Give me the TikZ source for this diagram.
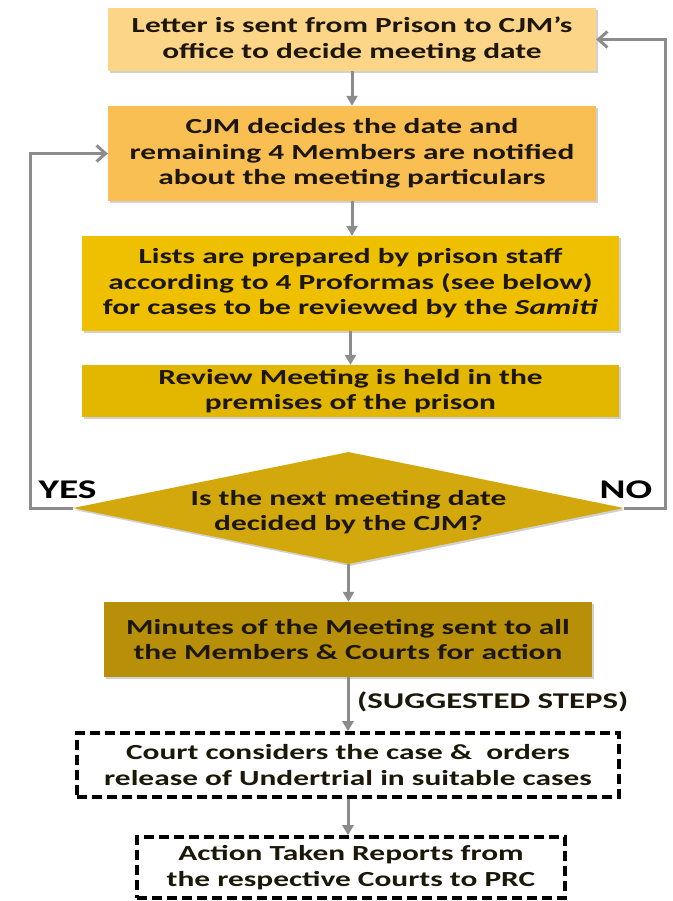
\documentclass[tikz,border=0pt]{standalone}
\usepackage{fontspec}
\setmainfont{Carlito}[FakeStretch=1.46]
\usetikzlibrary{arrows.meta,shapes.geometric,shadows}
\definecolor{cA}{HTML}{FCD589}
\definecolor{cB}{HTML}{F9BF52}
\definecolor{cC}{HTML}{EFC000}
\definecolor{cD}{HTML}{E3B600}
\definecolor{cE}{HTML}{D2A80C}
\definecolor{cF}{HTML}{B78F09}
\definecolor{conn}{HTML}{8C8C8C}
\definecolor{ink}{HTML}{1C1708}
\tikzset{
  txtfont/.style={font=\fontsize{21.5}{25.5}\selectfont\bfseries},
  box/.style={draw=none, inner sep=0pt, align=center, text=ink, txtfont,
    drop shadow={shadow xshift=1.5pt, shadow yshift=-2pt, fill=black!30, opacity=0.6}},
  dbox/.style={draw=black, line width=3.6pt, dash pattern=on 10pt off 5pt, inner sep=0pt,
    align=center, text=ink, txtfont},
  flow/.style={draw=conn, line width=3pt, -{Triangle[length=10pt,width=11pt]}},
  back/.style={draw=conn, line width=3pt, -{Straight Barb[length=9pt,width=16pt,line width=3pt]}},
  lab/.style={inner sep=0pt, text=ink, txtfont},
  biglab/.style={inner sep=0pt, text=black, font=\fontsize{27}{30}\selectfont\bfseries}
}
\begin{document}
\begin{tikzpicture}[x=1pt,y=-1pt]
\useasboundingbox (0,0) rectangle (672,901);
\node[box, fill=cA, minimum width=488, minimum height=63] (b1) at (352,39.5)
  {Letter is sent from Prison to CJM’s\\office to decide meeting date};
\node[box, fill=cB, minimum width=488, minimum height=95] (b2) at (352,153.5)
  {CJM decides the date and\\remaining 4 Members are notified\\about the meeting particulars};
\node[box, fill=cC, minimum width=537, minimum height=95] (b3) at (350.5,283.5)
  {Lists are prepared by prison staff\\according to 4 Proformas (see below)\\for cases to be reviewed by the \textit{Samiti}};
\node[box, fill=cD, minimum width=537, minimum height=52] (b4) at (350.5,391)
  {Review Meeting is held in the\\premises of the prison};
\node[diamond, fill=cE, draw=none, inner sep=0pt, aspect=5, minimum width=551, minimum height=112,
  drop shadow={shadow xshift=1.5pt, shadow yshift=-2pt, fill=black!30, opacity=0.6}] (d) at (348.5,508) {};
\node[lab, align=center] (dt) at (348.5,512) {Is the next meeting date\\decided by the CJM?};
\node[box, fill=cF, minimum width=488, minimum height=75] (b5) at (348,639.5)
  {Minutes of the Meeting sent to all\\the Members \& Courts for action};
\node[lab, anchor=west, font=\fontsize{22.5}{26}\selectfont\bfseries] (sg) at (357,702) {(SUGGESTED STEPS)};
\node[dbox, minimum width=542, minimum height=64] (b6) at (348,765)
  {Court considers the case \&~~orders\\release of Undertrial in suitable cases};
\node[dbox, minimum width=428, minimum height=61] (b7) at (351,867.5)
  {Action Taken Reports from\\the respective Courts to PRC};
\node[biglab] (yes) at (67.5,490) {YES};
\node[biglab] (no) at (626,490) {NO};
\coordinate (yl) at (30,508);
\coordinate (nr) at (665,508);
\draw[flow] (b1.south -| b2.north) -- (b2.north);
\draw[flow] (b2.south) -- (b2.south |- b3.north);
\draw[flow] (b3.south) -- (b4.north);
\draw[flow] (d.south) -- (d.south |- b5.north);
\draw[flow] (b5.south) -- (b5.south |- b6.north);
\draw[flow] (b6.south -| b5.south) -- (b5.south |- b7.north);
\draw[back] (d.west) -- (yl) |- (b2.west);
\draw[back] (d.east) -- (nr) |- (b1.east);
\end{tikzpicture}
\end{document}
